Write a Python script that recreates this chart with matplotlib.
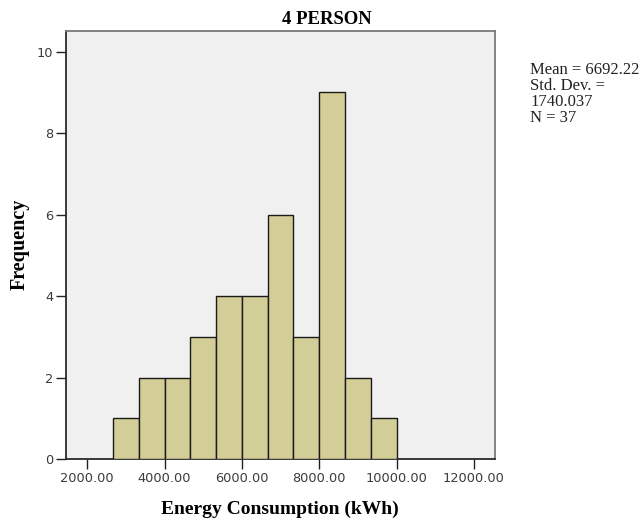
import matplotlib
matplotlib.use("Agg")
import matplotlib.pyplot as plt
import numpy as np

# Data
bin_edges = [2666.67, 3333.33, 4000.00, 4666.67, 5333.33, 6000.00, 6666.67,
             7333.33, 8000.00, 8666.67, 9333.33, 10000.00]
counts = [1, 2, 2, 3, 4, 4, 6, 3, 9, 2, 1]
x_ticks = [2000, 4000, 6000, 8000, 10000, 12000]
x_tick_labels = ["2000.00", "4000.00", "6000.00", "8000.00", "10000.00", "12000.00"]
y_ticks = [0, 2, 4, 6, 8, 10]
title = "4 PERSON"
xlabel = "Energy Consumption (kWh)"
ylabel = "Frequency"
stats_lines = ["Mean = 6692.22", "Std. Dev. =", "1740.037", "N = 37"]

W, H = 639, 519
fig = plt.figure(figsize=(W / 100, H / 100), dpi=100)
fig.patch.set_facecolor("white")

left, right, top, bottom = 66, 495, 31, 459
ax = fig.add_axes([left / W, 1 - bottom / H, (right - left) / W, (bottom - top) / H])
ax.set_facecolor("#F0F0F0")

edges = np.array(bin_edges)
widths = np.diff(edges)
ax.bar(edges[:-1], counts, width=widths, align="edge", color="#D3CE97",
       edgecolor="#1a1a1a", linewidth=1.0, zorder=3)

ax.set_xlim(1450, 12545)
ax.set_ylim(0, 10.51)

ax.set_xticks(x_ticks)
ax.set_xticklabels(x_tick_labels, fontfamily="DejaVu Sans", fontsize=9.3, color="#3a3a3a")
ax.set_yticks(y_ticks)
ax.set_yticklabels([str(v) for v in y_ticks], fontfamily="DejaVu Sans", fontsize=9.3, color="#3a3a3a")
ax.tick_params(axis="both", direction="out", length=7, width=1.0, color="#222222", pad=2)

for s in ["top", "right"]:
    ax.spines[s].set_color("#7a7a7a")
    ax.spines[s].set_linewidth(1.3)
for s in ["left", "bottom"]:
    ax.spines[s].set_color("#2a2a2a")
    ax.spines[s].set_linewidth(1.3)

serif = ["Liberation Serif", "DejaVu Serif"]
fig.text(327 / W, 1 - 23.5 / H, title, ha="center", va="baseline", fontsize=13.5,
         fontweight="bold", fontfamily=serif)
fig.text(280 / W, 1 - 513.5 / H, xlabel, ha="center", va="baseline", fontsize=14,
         fontweight="bold", fontfamily=serif)
fig.text(25 / W, 1 - 244 / H, ylabel, ha="center", va="baseline", rotation=90,
         rotation_mode="anchor", fontsize=14.5, fontweight="bold", fontfamily=serif)
for i, line in enumerate(stats_lines):
    fig.text(530 / W, 1 - (74 + 16 * i) / H, line, ha="left", va="baseline",
             fontsize=12, fontfamily=serif, color="#222222")

fig.savefig("out.png", dpi=100, facecolor="white")
